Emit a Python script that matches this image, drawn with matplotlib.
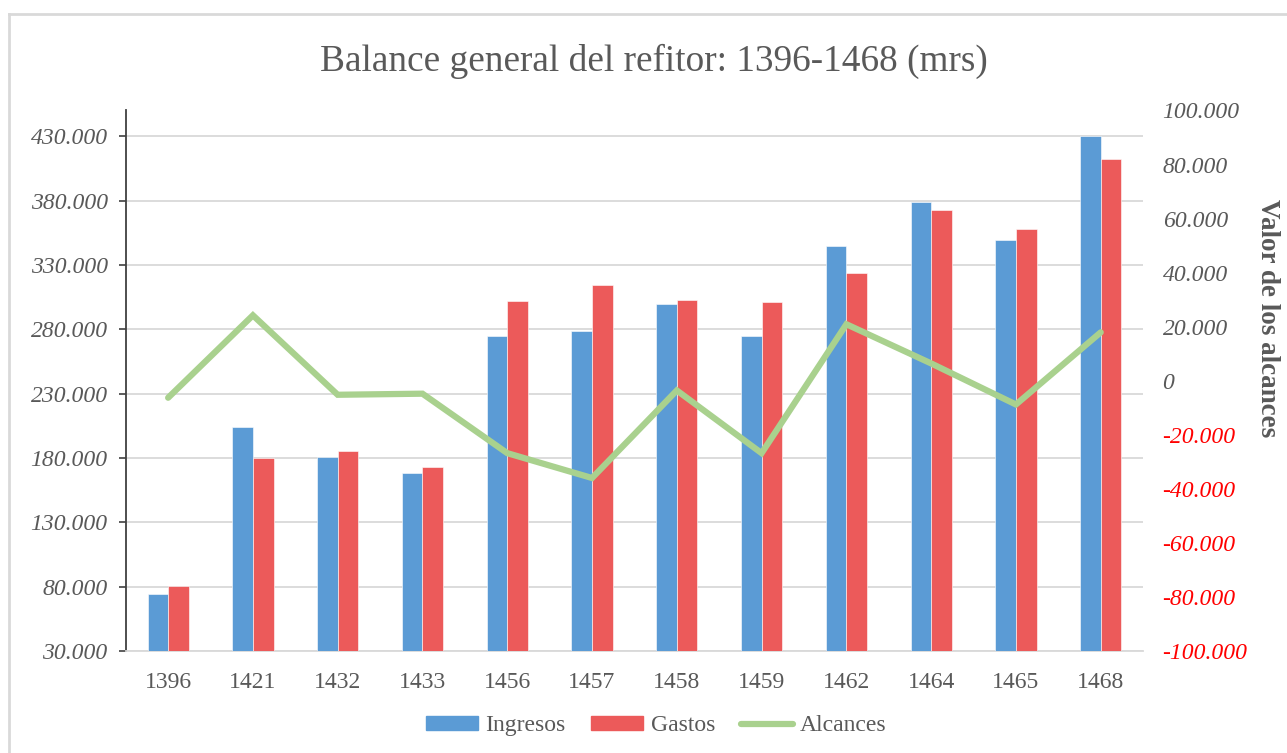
import numpy as np
import matplotlib.pyplot as plt
from matplotlib.lines import Line2D
from matplotlib.patches import Patch

years = ["1396", "1421", "1432", "1433", "1456", "1457", "1458", "1459", "1462", "1464", "1465", "1468"]
ingresos = [74000, 203900, 180600, 168200, 275100, 278400, 299400, 274500, 344700, 378800, 349300, 430000]
gastos = [80200, 180100, 185300, 172800, 301700, 314400, 303000, 301200, 323700, 372400, 358200, 412000]
alcances = [-6300, 24200, -5200, -4800, -26800, -36000, -3600, -26800, 20900, 6400, -8800, 17900]

left_ticks = [30000, 80000, 130000, 180000, 230000, 280000, 330000, 380000, 430000]
right_ticks = [-100000, -80000, -60000, -40000, -20000, 0, 20000, 40000, 60000, 80000, 100000]

blue = "#5B9BD5"
red = "#EC5A5A"
green = "#A9D18E"
grey_txt = "#595959"
serif = "Liberation Serif"

def miles(v):
    return "0" if v == 0 else f"{v:,.0f}".replace(",", ".")

fig = plt.figure(figsize=(12.87, 7.53), dpi=100)
ax = fig.add_axes([0.0977, 0.1355, 0.7905, 0.7178])
ax2 = ax.twinx()

x = np.arange(len(years))
w = 0.243
ax.bar(x - w / 2, ingresos, w, color=blue, edgecolor="white", linewidth=0.4, zorder=3)
ax.bar(x + w / 2, gastos, w, color=red, edgecolor="white", linewidth=0.4, zorder=3)
ax2.plot(x, alcances, color=green, linewidth=4.5, solid_capstyle="round", solid_joinstyle="miter", zorder=4)

ax.set_xlim(-0.5, len(years) - 0.5)
ax.set_ylim(30000, 450000)
ax2.set_ylim(-100000, 100000)

ax.set_yticks(left_ticks)
ax.set_yticklabels([miles(v) for v in left_ticks], fontfamily=serif, fontstyle="italic",
                   fontsize=17, color=grey_txt)
ax.set_xticks(x)
ax.set_xticklabels(years, fontfamily=serif, fontsize=17, color=grey_txt)
ax.tick_params(axis="x", length=0, pad=15)
ax.tick_params(axis="y", length=5, width=1.2, color="#404040", pad=8)
ax.yaxis.grid(True, color="#D9D9D9", linewidth=1.3, zorder=0)
ax.set_axisbelow(True)

ax2.set_yticks(right_ticks)
labs = ax2.set_yticklabels([miles(v) for v in right_ticks], fontfamily=serif, fontstyle="italic", fontsize=17)
for v, t in zip(right_ticks, labs):
    t.set_color("#FF0000" if v < 0 else grey_txt)
ax2.tick_params(axis="y", length=0, pad=14)

for a in (ax, ax2):
    for s in ("top", "right"):
        a.spines[s].set_visible(False)
ax2.spines["left"].set_visible(False)
ax2.spines["bottom"].set_visible(False)
ax.spines["left"].set_color("#404040")
ax.spines["left"].set_linewidth(1.3)
ax.spines["bottom"].set_color("#D9D9D9")
ax.spines["bottom"].set_linewidth(1.3)

fig.text(0.508, 0.918, "Balance general del refitor: 1396-1468 (mrs)", ha="center", va="center",
         fontfamily=serif, fontsize=26.8, color=grey_txt)
fig.text(0.985, 0.578, "Valor de los alcances", rotation=-90, ha="center", va="center",
         fontfamily=serif, fontsize=19.5, fontweight="bold", color=grey_txt)

# chart area border (top and left only visible)
fig.add_artist(Line2D([9 / 1287, 9 / 1287], [0, 1 - 14 / 753], color="#D9D9D9", linewidth=2, transform=fig.transFigure))
fig.add_artist(Line2D([9 / 1287, 1], [1 - 14 / 753, 1 - 14 / 753], color="#D9D9D9", linewidth=2, transform=fig.transFigure))

handles = [Patch(color=blue), Patch(color=red), Line2D([], [], color=green, linewidth=4.5, solid_capstyle="round")]
leg = fig.legend(handles, ["Ingresos", "Gastos", "Alcances"], loc="center", bbox_to_anchor=(0.51, 0.036),
                 ncol=3, frameon=False, handlelength=2.2, handleheight=0.55, handletextpad=0.3,
                 columnspacing=1.1, prop={"family": serif, "size": 17})
for t in leg.get_texts():
    t.set_color(grey_txt)

fig.savefig("out.png", dpi=100)
